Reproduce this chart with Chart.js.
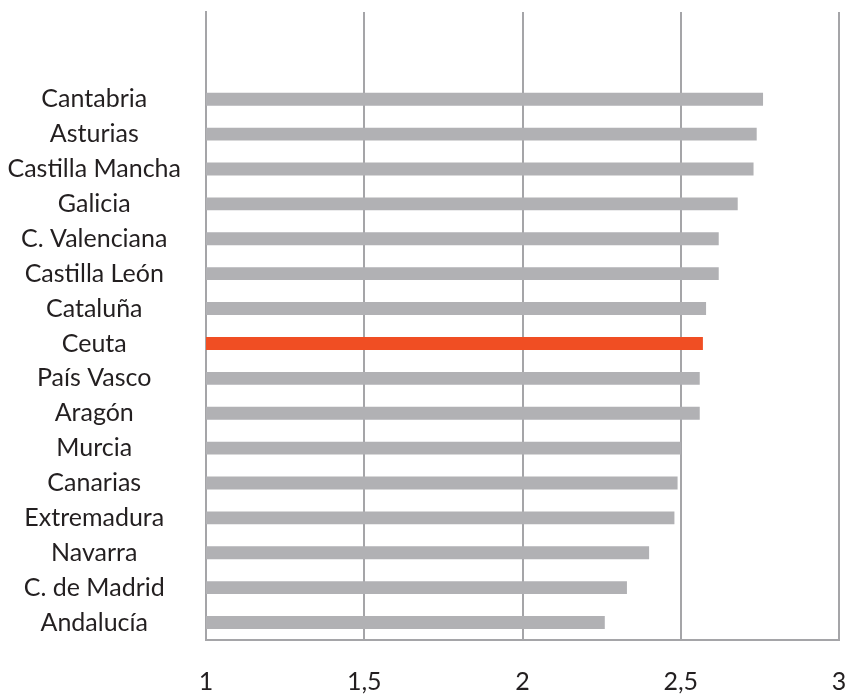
<!DOCTYPE html>
<html>
<head>
<meta charset="utf-8">
<script src="https://cdn.jsdelivr.net/npm/chart.js@4/dist/chart.umd.min.js"></script>
<style>
  html, body { margin: 0; padding: 0; background: #fff; }
  #wrap { width: 849px; height: 697px; }
</style>
</head>
<body>
<div id="wrap"><canvas id="chart" width="849" height="697"></canvas></div>
<script>
// datos
const regions = ["Cantabria", "Asturias", "Castilla Mancha", "Galicia", "C. Valenciana",
  "Castilla León", "Cataluña", "Ceuta", "País Vasco", "Aragón", "Murcia", "Canarias",
  "Extremadura", "Navarra", "C. de Madrid", "Andalucía"];
const values = [2.76, 2.74, 2.73, 2.68, 2.62, 2.62, 2.58, 2.57, 2.56, 2.56, 2.50, 2.49,
  2.48, 2.40, 2.33, 2.26];
const xTicks = [1, 1.5, 2, 2.5, 3];
const highlight = "Ceuta";

// two empty rows on top, as in the original
const labels = ["", ""].concat(regions);
const data = [null, null].concat(values);
const colors = labels.map(l => l === highlight ? "#f04e23" : "#b1b1b4");

const FONT = "Lato";
const GRID = "#a5a5a8";

// no extra label padding, the layout padding does the work
function noPad(scale) {
  scale.paddingTop = 0;
  scale.paddingBottom = 0;
  scale.paddingLeft = 0;
  scale.paddingRight = 0;
}

new Chart(document.getElementById("chart"), {
  type: "bar",
  data: {
    labels,
    datasets: [{
      data,
      backgroundColor: colors,
      barPercentage: 0.37,
      categoryPercentage: 1
    }]
  },
  options: {
    indexAxis: "y",
    responsive: false,
    animation: false,
    layout: { padding: { top: 12, right: 10, left: 0, bottom: 0 } },
    plugins: { legend: { display: false }, tooltip: { enabled: false } },
    scales: {
      x: {
        min: 1,
        max: 3,
        afterBuildTicks: (scale) => { scale.ticks = xTicks.map(v => ({ value: v })); },
        afterFit: (scale) => { scale.height = 57; noPad(scale); },
        grid: { color: GRID, lineWidth: 2, drawTicks: false },
        border: { color: GRID, width: 2 },
        ticks: {
          padding: 27,
          maxRotation: 0,
          color: "#231f20",
          font: { family: FONT, size: 25 },
          callback: (v) => String(v).replace(".", ",")
        }
      },
      y: {
        afterFit: (scale) => { scale.width = 206; noPad(scale); },
        grid: { display: false, drawTicks: false },
        border: { color: GRID, width: 2 },
        ticks: {
          crossAlign: "center",
          padding: 25,
          color: "#231f20",
          autoSkip: false,
          font: { family: FONT, size: 25 }
        }
      }
    }
  }
});
</script>
</body>
</html>
